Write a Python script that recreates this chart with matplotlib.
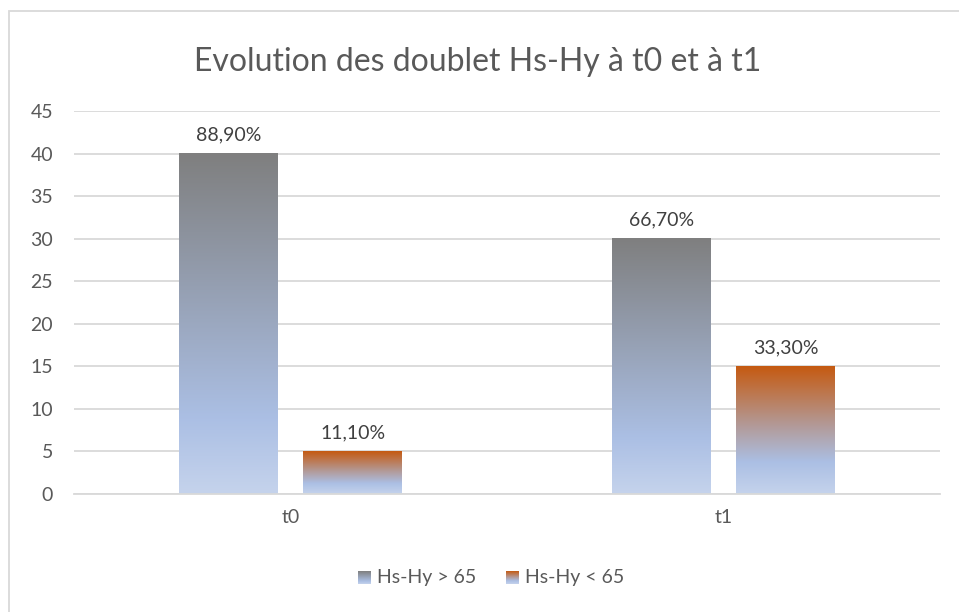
import matplotlib.pyplot as plt
import matplotlib.colors as mcolors
from matplotlib.patches import Rectangle
import numpy as np

plt.rcParams['font.family'] = ['Lato', 'DejaVu Sans']

categories = ['t0', 't1']
series_names = ['Hs-Hy > 65', 'Hs-Hy < 65']
values_high = [40, 30]
values_low = [5, 15]
labels_high = ['88,90%', '66,70%']
labels_low = ['11,10%', '33,30%']

# gradient stops (top -> bottom of each bar)
grad_high = mcolors.LinearSegmentedColormap.from_list(
    'g1', [(0, '#7f7f7f'), (0.78, '#abbfe4'), (1, '#c5d3ec')])
grad_low = mcolors.LinearSegmentedColormap.from_list(
    'g2', [(0, '#c55a11'), (0.45, '#b39894'), (0.75, '#abbfe4'), (1, '#c5d3ec')])

fig = plt.figure(figsize=(9.59, 6.12), dpi=100)
ax = fig.add_axes([74 / 959, 1 - 494 / 612, (940 - 74) / 959, (494 - 111) / 612])

grad = np.linspace(0, 1, 256).reshape(-1, 1)
w = 0.227
gap = 0.06
x = np.arange(len(categories))
fs = 14


def grad_bar(xc, h, cmap):
    left = xc - w / 2
    ax.imshow(grad, aspect='auto', cmap=cmap, extent=[left, left + w, 0, h],
              origin='upper', zorder=2, interpolation='bicubic')


for i in range(len(categories)):
    x1 = x[i] - (w + gap) / 2
    x2 = x[i] + (w + gap) / 2
    grad_bar(x1, values_high[i], grad_high)
    grad_bar(x2, values_low[i], grad_low)
    ax.text(x1, values_high[i] + 1.2, labels_high[i], ha='center', va='bottom',
            fontsize=fs, color='#404040')
    ax.text(x2, values_low[i] + 1.2, labels_low[i], ha='center', va='bottom',
            fontsize=fs, color='#404040')

ax.set_xlim(-0.5, 1.5)
ax.set_ylim(0, 45)
ax.set_yticks(range(0, 46, 5))
ax.set_xticks(x)
ax.set_xticklabels(categories)
ax.yaxis.grid(True, color='#d9d9d9', linewidth=1.3)
ax.set_axisbelow(True)
for s in ['top', 'right', 'left']:
    ax.spines[s].set_visible(False)
ax.spines['bottom'].set_color('#d9d9d9')
ax.spines['bottom'].set_linewidth(1.3)
ax.tick_params(length=0, labelsize=fs, labelcolor='#595959')
ax.tick_params(axis='y', pad=15)
ax.tick_params(axis='x', pad=11)

fig.text(0.5 - 2 / 959, 1 - 62 / 612, 'Evolution des doublet Hs-Hy à t0 et à t1',
         ha='center', va='center', fontsize=23, color='#595959')

# legend drawn by hand with gradient swatches
leg_y = 1 - 578 / 612
for cmap, name, lx in [(grad_high, series_names[0], 358), (grad_low, series_names[1], 506)]:
    sw = fig.add_axes([lx / 959, leg_y - 6 / 612, 13 / 959, 13 / 612])
    sw.imshow(grad, aspect='auto', cmap=cmap, origin='upper')
    sw.axis('off')
    fig.text((lx + 19) / 959, leg_y, name, ha='left', va='center',
             fontsize=fs, color='#595959')

# outer chart border (only top and left are inside the image)
fig.patches.append(Rectangle((9 / 959, -0.1), 2, 1 - 11 / 612 + 0.1,
                             transform=fig.transFigure, fill=False,
                             edgecolor='#d9d9d9', linewidth=1.3))

fig.savefig('out.png', dpi=100)
